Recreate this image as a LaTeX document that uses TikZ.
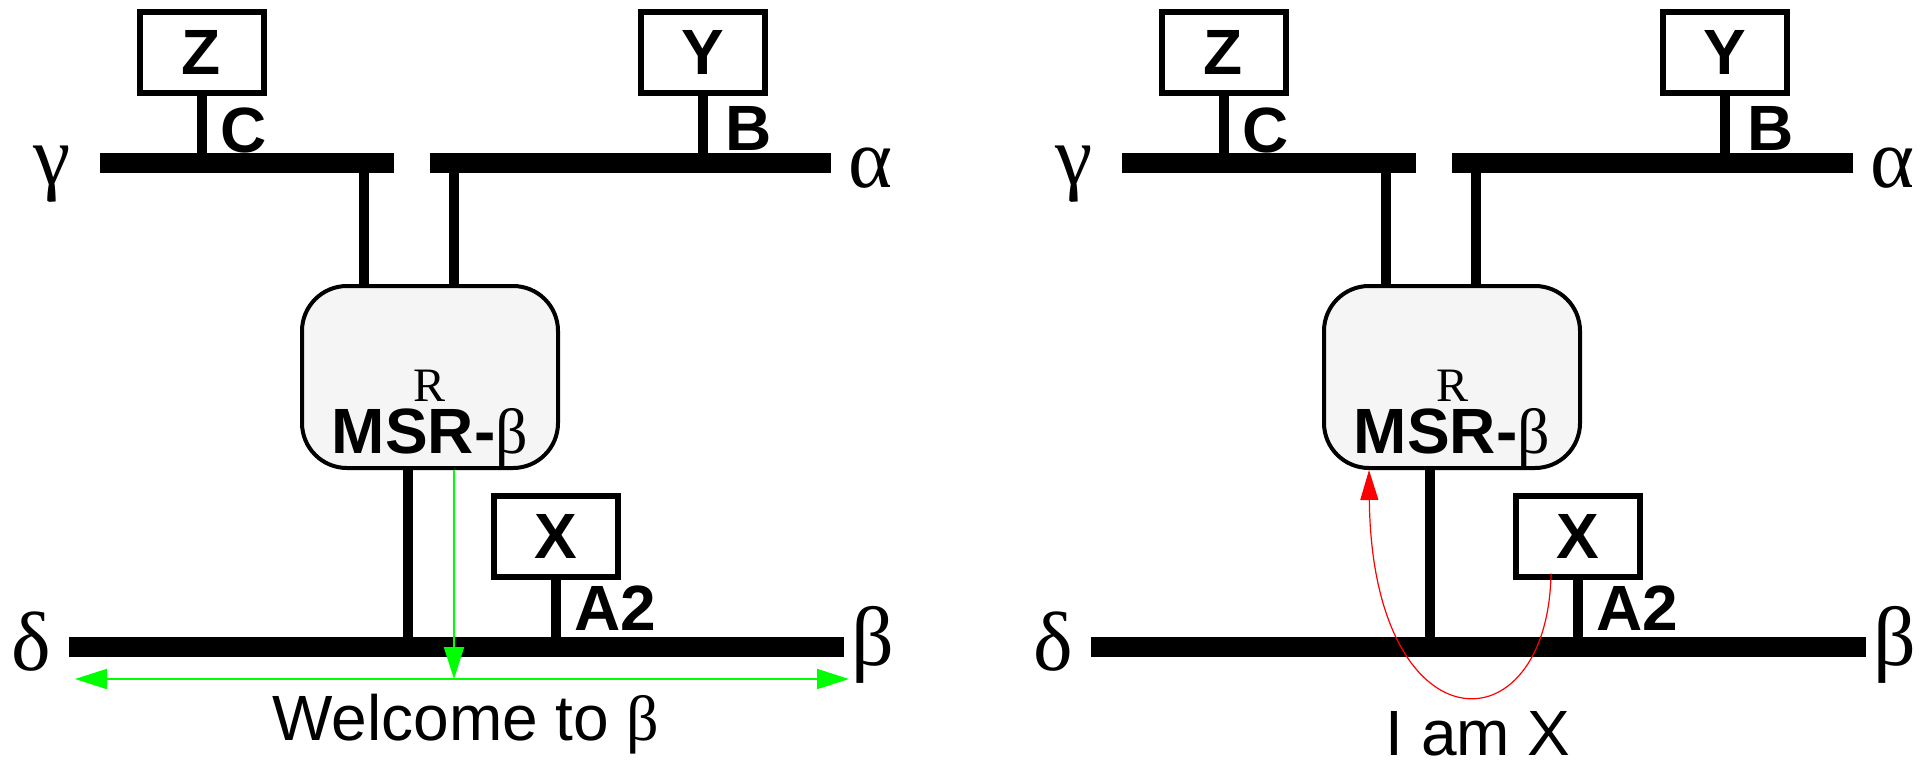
\documentclass[tikz,border=0pt]{standalone}
\usepackage{fontspec}
\setmainfont{Liberation Sans}
\newfontfamily\serifgreek{Liberation Serif}
\usetikzlibrary{arrows.meta}

\newcommand{\tagsize}{\fontsize{32}{38}\selectfont}
\newcommand{\greeksize}{\fontsize{42}{50}\selectfont}

\begin{document}
\begin{tikzpicture}[x=0.5pt,y=-0.5pt]
\useasboundingbox (0,0) rectangle (1925,760);
\begin{scope}[every node/.style={inner sep=0pt},
              bus/.style={fill=black,minimum height=10pt},
              host/.style={draw,line width=3pt,fill=white,minimum width=62pt,minimum height=40.5pt,font=\tagsize\bfseries},
              router/.style={draw,line width=2pt,fill=black!4,rounded corners=22.5pt,minimum width=128pt,minimum height=91pt},
              ifname/.style={font=\tagsize\bfseries,anchor=base west},
              greek/.style={font=\serifgreek\greeksize,anchor=base}]
    % left: MSR-beta announces itself
    \node[bus,minimum width=147pt] (gbusl) at (247,163) {};
    \node[bus,minimum width=200.5pt] (abusl) at (630.5,163) {};
    \node[bus,minimum width=387.5pt] (dbusl) at (456.5,647) {};
    \node[host] (Zl) at (201.5,52.5) {Z};
    \node[host] (Yl) at (703,52.5) {Y};
    \node[host] (Xl) at (555.5,536) {X};
    \node[router] (msrl) at (430,377) {};
    \node[font=\serifgreek\fontsize{24}{24}\selectfont,anchor=base] (Rl) at (430,401) {R};
    \node[font=\tagsize,anchor=base] (namel) at (430,453) {\bfseries MSR-{\serifgreek\mdseries β}};
    \node[ifname] (Cl) at (220,152) {C};
    \node[ifname] (Bl) at (725,150) {B};
    \node[ifname] (A2l) at (574,630) {A2};
    \node[greek] (gammal) at (52,184) {γ};
    \node[greek] (alphal) at (870,187) {α};
    \node[greek] (deltal) at (31,670) {δ};
    \node[greek] (betal) at (873,665) {β};
    \node[font=\tagsize,anchor=base] (welcome) at (466,740) {Welcome to {\serifgreek β}};
    % right: X answers
    \node[bus,minimum width=147pt] (gbusr) at (1269,163) {};
    \node[bus,minimum width=200.5pt] (abusr) at (1652.5,163) {};
    \node[bus,minimum width=387.5pt] (dbusr) at (1478.5,647) {};
    \node[host] (Zr) at (1223.5,52.5) {Z};
    \node[host] (Yr) at (1725,52.5) {Y};
    \node[host] (Xr) at (1577.5,536) {X};
    \node[router] (msrr) at (1452,377) {};
    \node[font=\serifgreek\fontsize{24}{24}\selectfont,anchor=base] (Rr) at (1452,401) {R};
    \node[font=\tagsize,anchor=base] (namer) at (1452,453) {\bfseries MSR-{\serifgreek\mdseries β}};
    \node[ifname] (Cr) at (1242,152) {C};
    \node[ifname] (Br) at (1747,150) {B};
    \node[ifname] (A2r) at (1596,630) {A2};
    \node[greek] (gammar) at (1074,184) {γ};
    \node[greek] (alphar) at (1892,187) {α};
    \node[greek] (deltar) at (1053,670) {δ};
    \node[greek] (betar) at (1895,665) {β};
    \node[font=\tagsize,anchor=base] (iamx) at (1478,755) {I am X};
\end{scope}
\begin{scope}[stub/.style={line width=5pt}]
    \coordinate (gupl) at ([xshift=-33.25pt]msrl.north);
    \coordinate (aupl) at ([xshift=11.75pt]msrl.north);
    \coordinate (ddownl) at ([xshift=-11.25pt]msrl.south);
    \coordinate (gupr) at ([xshift=-33.25pt]msrr.north);
    \coordinate (aupr) at ([xshift=11.75pt]msrr.north);
    \coordinate (ddownr) at ([xshift=-11.25pt]msrr.south);
    \draw[stub] (Zl.south) -- (Zl.south |- gbusl.center);
    \draw[stub] (Yl.south) -- (Yl.south |- abusl.center);
    \draw[stub] (Xl.south) -- (Xl.south |- dbusl.center);
    \draw[stub] (gupl) -- (gupl |- gbusl.center);
    \draw[stub] (aupl) -- (aupl |- abusl.center);
    \draw[stub] (ddownl) -- (ddownl |- dbusl.center);
    \draw[stub] (Zr.south) -- (Zr.south |- gbusr.center);
    \draw[stub] (Yr.south) -- (Yr.south |- abusr.center);
    \draw[stub] (Xr.south) -- (Xr.south |- dbusr.center);
    \draw[stub] (gupr) -- (gupr |- gbusr.center);
    \draw[stub] (aupr) -- (aupr |- abusr.center);
    \draw[stub] (ddownr) -- (ddownr |- dbusr.center);
\end{scope}
\begin{scope}[>={Triangle[length=16pt,width=10pt]},
              welcome_edge/.style={draw=green,line width=1pt},
              reply_edge/.style={draw=red,line width=0.6pt}]
    \coordinate (wleft) at (75,679);
    \coordinate (wright) at (849,679);
    \coordinate (wmid) at (454,679);
    \path [<->] (wleft) edge [welcome_edge] (wright);
    \path [->] (msrl.south -| wmid) edge [welcome_edge] (wmid);
    \coordinate (xout) at ([xshift=-13.25pt,yshift=3pt]Xr.south);
    \coordinate (rin) at ([xshift=23.5pt]msrr.south west);
    \draw [->,reply_edge,>={Triangle[length=15pt,width=9pt]}] (xout) .. controls +(-3,178) and +(3,281) .. (rin);
\end{scope}
\end{tikzpicture}
\end{document}
